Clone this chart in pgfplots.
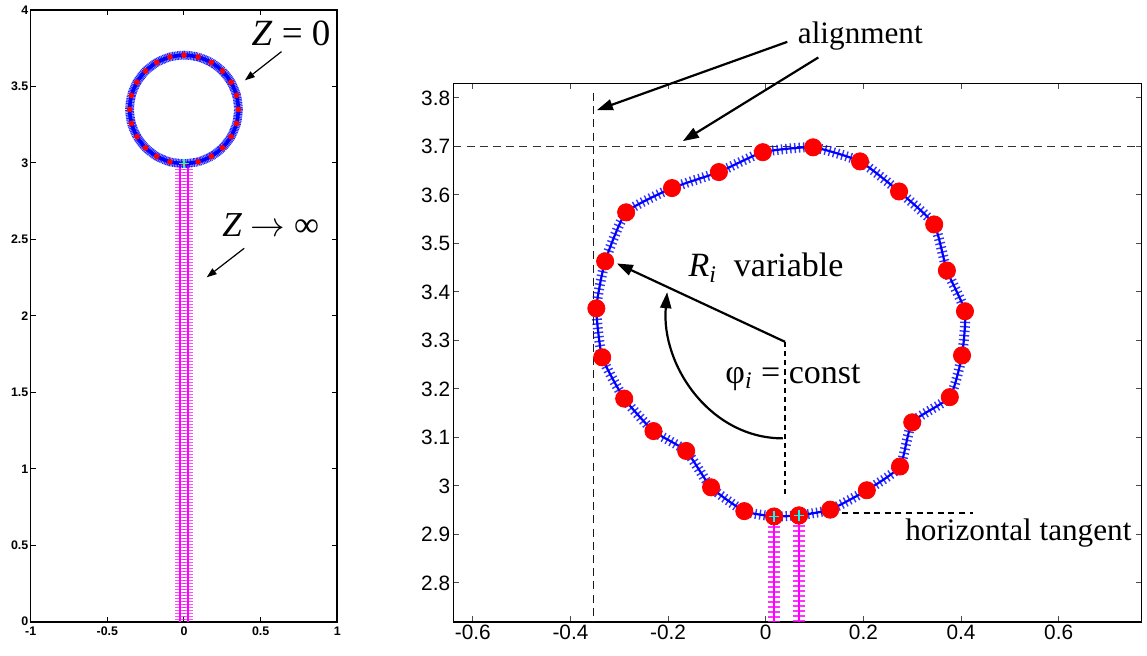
\documentclass[border=0pt]{standalone}
\usepackage{pgfplots}
\pgfplotsset{compat=1.18}
\usepackage{pgfplotstable}
\usepackage{fontspec}
\setmainfont{Liberation Serif}
\setsansfont{Liberation Sans}
\usetikzlibrary{arrows.meta}
\definecolor{mag}{RGB}{255,0,255}
\definecolor{cya}{RGB}{0,255,255}
\definecolor{blu}{RGB}{0,0,255}
\definecolor{rd}{RGB}{255,0,0}

% right panel: points of the contour (red dots)
\pgfplotstableread{
x y
0.068 2.939
0.132 2.951
0.207 2.991
0.275 3.040
0.300 3.131
0.377 3.183
0.402 3.269
0.408 3.360
0.371 3.444
0.345 3.539
0.273 3.607
0.193 3.669
0.097 3.698
-0.006 3.688
-0.096 3.647
-0.192 3.614
-0.286 3.564
-0.329 3.463
-0.347 3.366
-0.335 3.265
-0.290 3.180
-0.230 3.113
-0.163 3.072
-0.112 2.997
-0.044 2.948
0.017 2.937
0.068 2.939
}\ringR

% left panel: contour at Z = 0
\pgfplotstableread{
x y
0 2.995
0.092 3.007
0.178 3.043
0.251 3.099
0.307 3.172
0.343 3.258
0.355 3.350
0.343 3.442
0.307 3.528
0.251 3.601
0.178 3.657
0.092 3.693
0 3.705
-0.092 3.693
-0.178 3.657
-0.251 3.601
-0.307 3.528
-0.343 3.442
-0.355 3.350
-0.343 3.258
-0.307 3.172
-0.251 3.099
-0.178 3.043
-0.092 3.007
0 2.995
}\ringL

\tikzset{
 ann/.style={line width=1.1pt,-{Triangle[length=8pt,width=5.5pt]}},
 annL/.style={line width=0.6pt,-{Triangle[length=5pt,width=3.5pt]}},
}

\begin{document}
\begin{tikzpicture}
\useasboundingbox (-15.35pt,-16.65pt) rectangle (558.15pt,310.85pt);

% ---------------- left panel ----------------
\begin{axis}[
  name=L, at={(0pt,0pt)}, anchor=south west, scale only axis,
  width=153.3pt, height=305.85pt,
  xmin=-1, xmax=1, ymin=0, ymax=4,
  xtick={-1,-0.5,0,0.5,1}, xticklabels={-1,-0.5,0,0.5,1},
  ytick={0,0.5,1,1.5,2,2.5,3,3.5,4}, yticklabels={0,0.5,1,1.5,2,2.5,3,3.5,4},
  tick label style={font=\sffamily\bfseries\fontsize{6.2}{7}\selectfont},
  yticklabel style={inner sep=1pt},
  xticklabel style={inner sep=2.4pt},
  major tick length=2.5pt,
  tick style={line width=0.5pt, color=black},
  axis line style={line width=0.8pt},
]
% magenta columns (Z -> infinity): thick dashed strokes give the "+" bars
\addplot[mag, opacity=0.7, line width=5pt, dash pattern=on 0.55pt off 0.95pt]
  coordinates {(-0.026,-0.05) (-0.026,2.99)};
\addplot[mag, opacity=0.7, line width=5pt, dash pattern=on 0.55pt off 0.95pt]
  coordinates {(0.026,-0.05) (0.026,2.99)};
\addplot[mag, line width=0.6pt] coordinates {(-0.026,-0.05) (-0.026,2.99)};
\addplot[mag, line width=0.6pt] coordinates {(0.026,-0.05) (0.026,2.99)};
\addplot[rd, only marks, mark=*, mark size=1.2pt] table {\ringL};
\addplot[blu, opacity=0.85, line width=4.4pt, smooth, tension=0.4, dash pattern=on 0.5pt off 0.3pt] table {\ringL};
\addplot[blu, line width=1.8pt, smooth, tension=0.4] table {\ringL};
\addplot[only marks, mark=+, mark size=2.3pt, cya, line width=0.6pt] coordinates {(0,2.998)};
\coordinate (z0s) at (axis cs:0.636,3.728);
\coordinate (z0e) at (axis cs:0.397,3.540);
\coordinate (z0t) at (axis cs:0.698,3.844);
\coordinate (zis) at (axis cs:0.393,2.442);
\coordinate (zie) at (axis cs:0.148,2.252);
\coordinate (zit) at (axis cs:0.566,2.594);
\end{axis}

\draw[annL] (z0s) -- (z0e);
\draw[annL] (zis) -- (zie);
\node at (z0t) {\fontsize{18.5}{20}\selectfont\textit{Z} = 0};
\node at (zit) {\fontsize{17.5}{20}\selectfont\textit{Z} $\rightarrow$ ∞};

% ---------------- right panel ----------------
\begin{axis}[
  name=R, at={(211.3pt,0pt)}, anchor=south west, scale only axis,
  width=344.2pt, height=269.2pt,
  xmin=-0.64, xmax=0.77, ymin=2.72, ymax=3.83,
  xtick={-0.6,-0.4,-0.2,0,0.2,0.4,0.6},
  xticklabels={-0.6,-0.4,-0.2,0,0.2,0.4,0.6},
  ytick={2.8,2.9,3,3.1,3.2,3.3,3.4,3.5,3.6,3.7,3.8},
  yticklabels={2.8,2.9,3,3.1,3.2,3.3,3.4,3.5,3.6,3.7,3.8},
  tick label style={font=\sffamily\fontsize{10.4}{12}\selectfont},
  yticklabel style={inner sep=1.4pt},
  xticklabel style={inner sep=1.6pt},
  major tick length=3pt,
  tick style={line width=0.5pt, color=black!70},
  axis line style={line width=0.8pt},
]
\addplot[black!80, line width=0.5pt, dash pattern=on 4pt off 2.6pt] coordinates {(-0.64,3.7) (0.77,3.7)};
\addplot[black!90, line width=0.5pt, dash pattern=on 4pt off 2.6pt] coordinates {(-0.352,3.81) (-0.352,2.72)};
\addplot[black, line width=0.9pt, dash pattern=on 2.6pt off 2pt] coordinates {(0.0395,3.297) (0.0395,2.975)};
\addplot[black, line width=0.8pt, dash pattern=on 3pt off 2.3pt] coordinates {(0.07,2.944) (0.424,2.944)};
% magenta columns with "+" bars
\addplot[mag, opacity=0.8, line width=6.4pt, dash pattern=on 0.6pt off 1.9pt]
  coordinates {(0.017,2.937) (0.017,2.70)};
\addplot[mag, opacity=0.8, line width=6.4pt, dash pattern=on 0.6pt off 1.9pt]
  coordinates {(0.068,2.939) (0.068,2.70)};
\addplot[mag, line width=0.7pt] coordinates {(0.017,2.937) (0.017,2.70)};
\addplot[mag, line width=0.7pt] coordinates {(0.068,2.939) (0.068,2.70)};
% red points
\addplot[rd, only marks, mark=*, mark size=4.3pt] table {\ringR};
% blue contour with dense "+" bars
\addplot[blu, opacity=0.8, line width=5pt, smooth, tension=0.3, dash pattern=on 0.7pt off 1.5pt] table {\ringR};
\addplot[blu, line width=1.1pt, smooth, tension=0.3] table {\ringR};
\addplot[only marks, mark=+, mark size=2.6pt, cya, line width=0.6pt] coordinates {(0.017,2.937) (0.068,2.939)};
\coordinate (a1s) at (axis cs:0.0442,3.9155);
\coordinate (a1e) at (axis cs:-0.346,3.7746);
\coordinate (a2s) at (axis cs:0.1077,3.8833);
\coordinate (a2e) at (axis cs:-0.170,3.7107);
\coordinate (alt) at (axis cs:0.1937,3.9122);
\coordinate (piv) at (axis cs:0.0395,3.297);
\coordinate (rie) at (axis cs:-0.305,3.4586);
\coordinate (rit) at (axis cs:-0.159,3.431);
\coordinate (arcs) at (axis cs:0.035,3.098);
\coordinate (arce) at (axis cs:-0.202,3.3994);
\coordinate (pht) at (axis cs:-0.0833,3.2111);
\coordinate (htt) at (axis cs:0.285,2.888);
\end{axis}

\draw[ann] (a1s) -- (a1e);
\draw[ann] (a2s) -- (a2e);
\node[anchor=base, inner sep=0pt] at (alt) {\fontsize{15.6}{17}\selectfont alignment};
\draw[ann] (piv) -- (rie);
\node[anchor=base west, inner sep=0pt] at (rit) {\fontsize{17}{18}\selectfont\textit{R}\textsubscript{\textit{i}}\ \ variable};
\draw[ann] (arcs) to[out=180, in=-95] (arce);
\node[anchor=base west, inner sep=0pt] at (pht) {\fontsize{17}{18}\selectfont φ\textsubscript{\textit{i}} = const};
\node[anchor=base west, inner sep=0pt] at (htt) {\fontsize{15.6}{17}\selectfont horizontal tangent};
\end{tikzpicture}
\end{document}
